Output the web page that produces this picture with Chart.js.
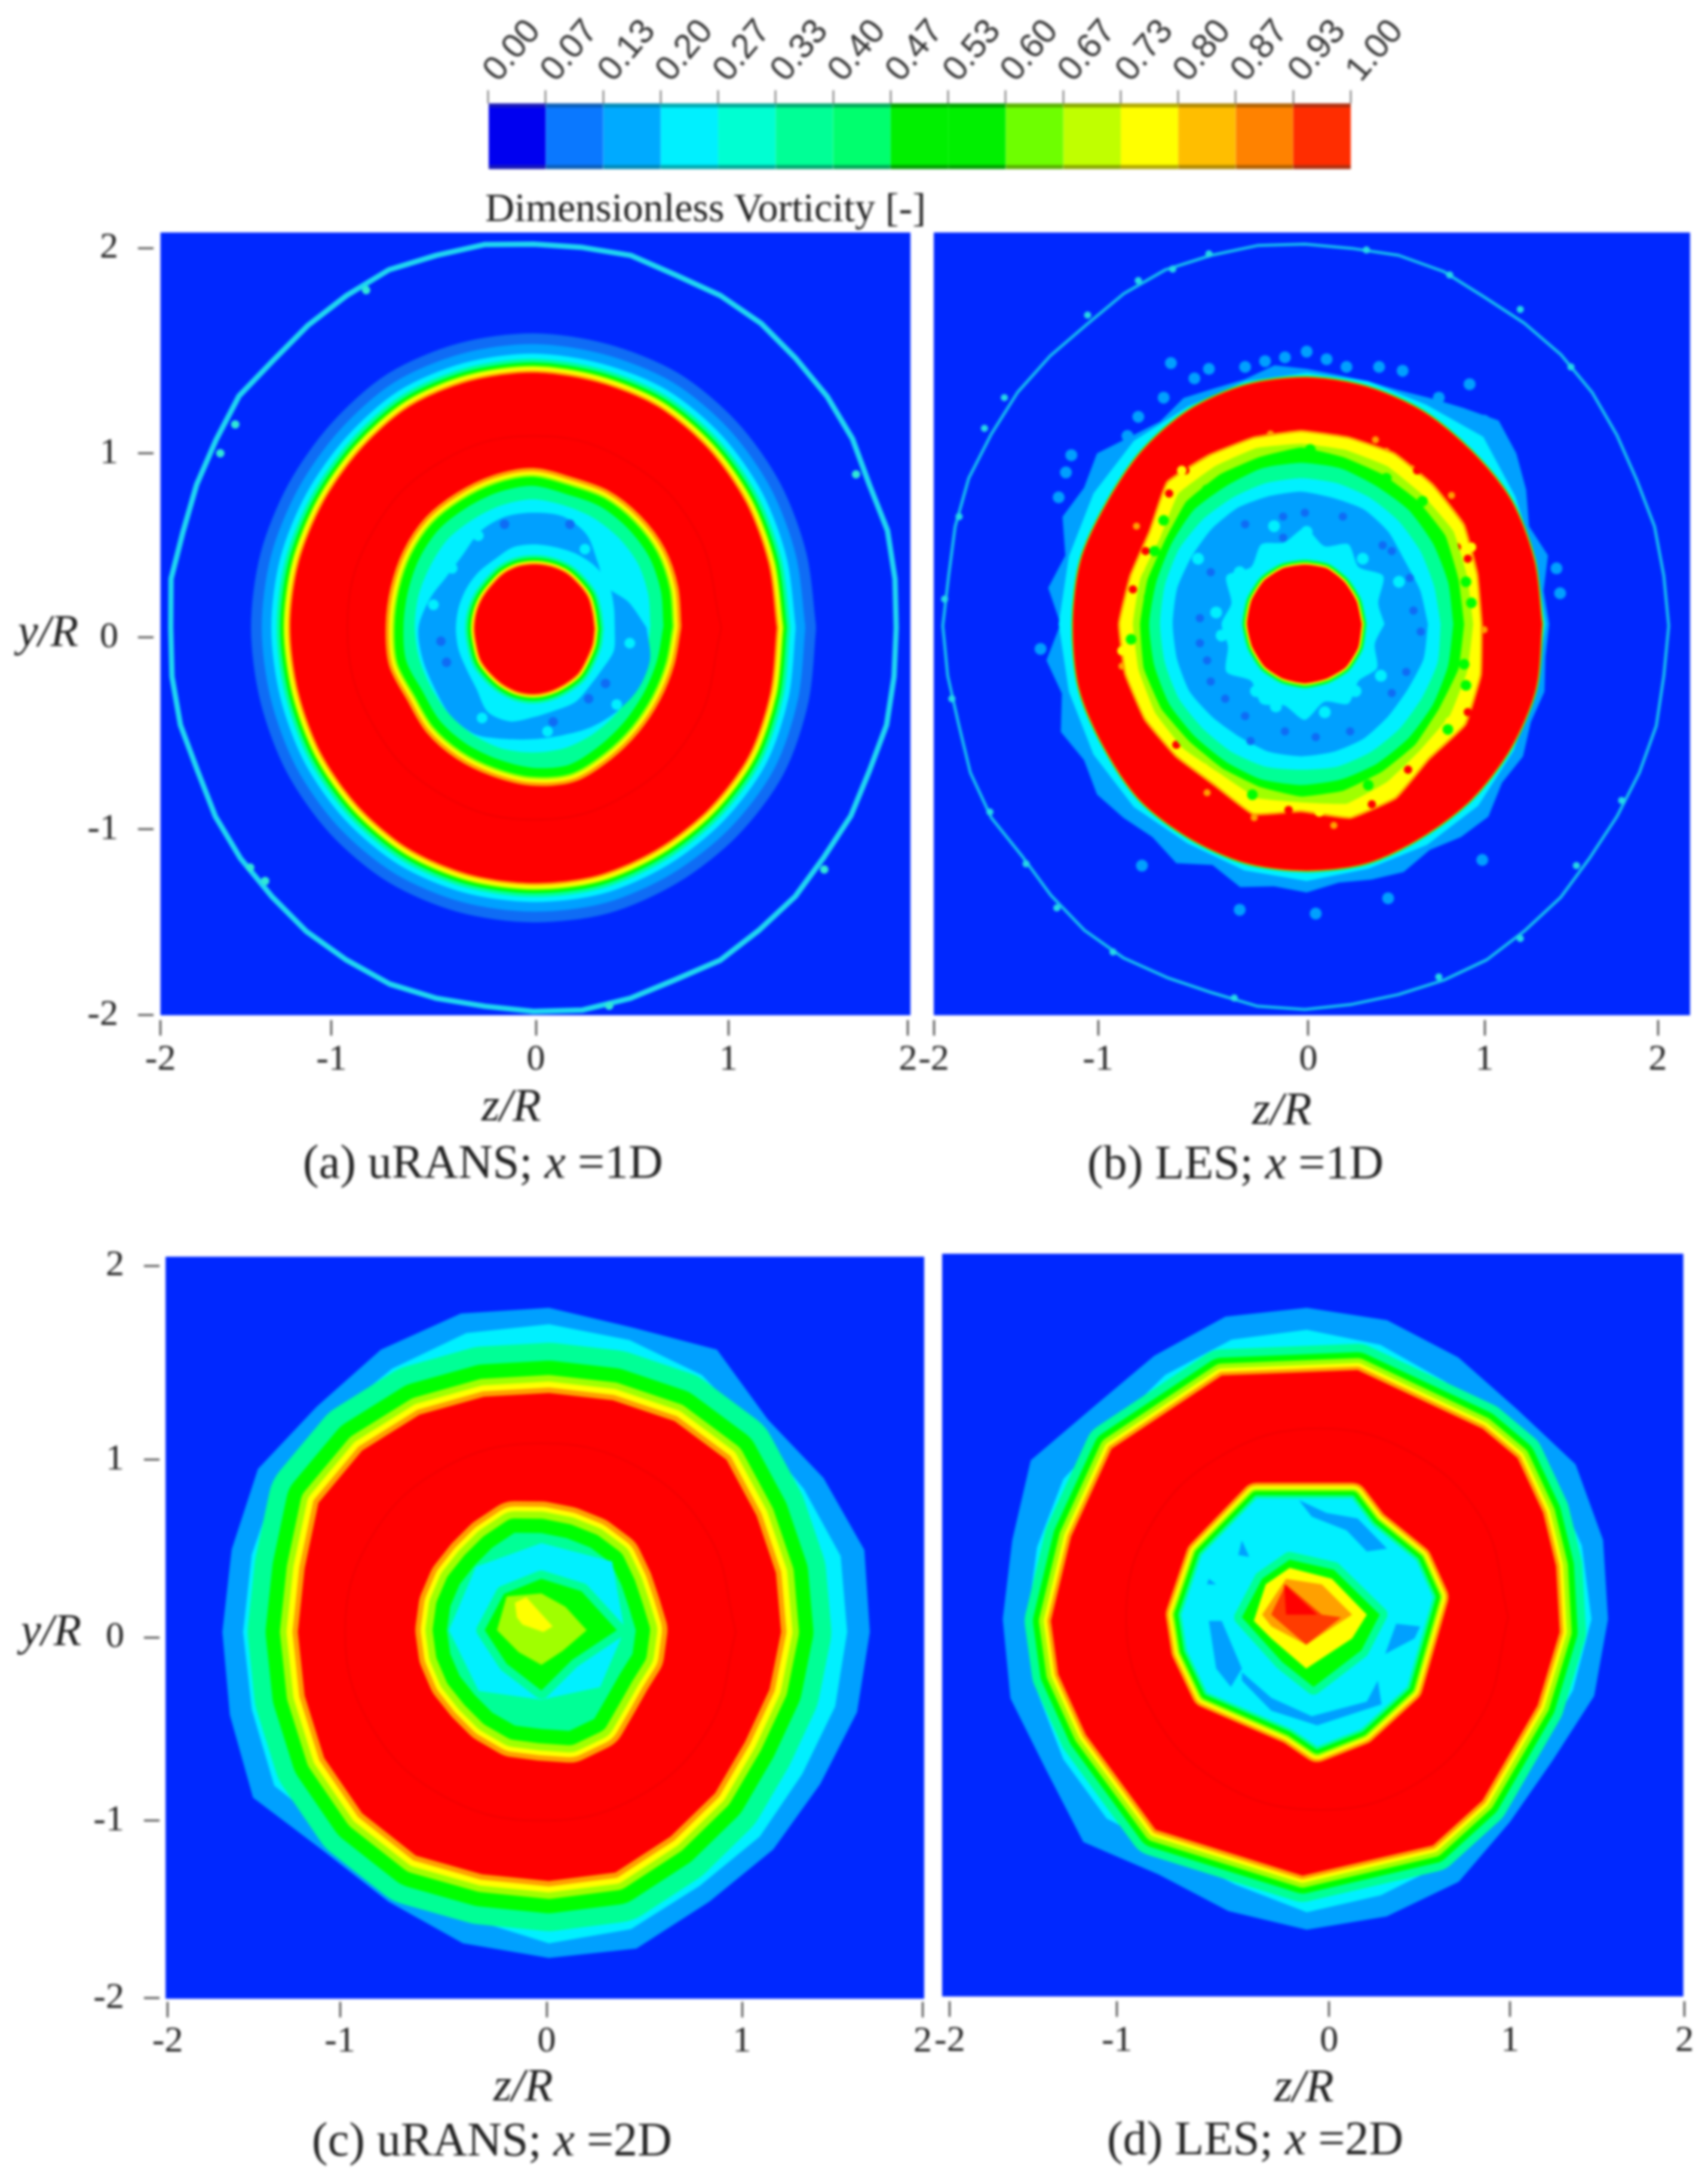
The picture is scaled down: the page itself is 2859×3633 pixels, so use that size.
<!DOCTYPE html>
<html>
<head>
<meta charset="utf-8">
<title>Dimensionless Vorticity</title>
<script src="https://cdn.jsdelivr.net/npm/chart.js@4/dist/chart.umd.min.js"></script>
<style>
  html, body { margin: 0; background: #fff; }
  #page { position: relative; width: 2859px; height: 3633px; overflow: hidden; filter: blur(2px); }
  canvas { position: absolute; }
  .txt { position: absolute; white-space: nowrap; transform: translateY(-50%); font-family: "Liberation Serif", serif; color: #222; }
  .txt i { font-style: italic; }
</style>
</head>
<body>
<div id="page"></div>
<script>
// colour bar
const cbLabels = ["0.00","0.07","0.13","0.20","0.27","0.33","0.40","0.47","0.53","0.60","0.67","0.73","0.80","0.87","0.93","1.00"];
const cbColors = ["#0000f0","#0a78ff","#00aaff","#00f0ff","#00ffd2","#00ff96","#00ff6e","#00f000","#00f000","#6eff00","#c0ff00","#ffff00","#ffbe00","#ff8200","#ff2d00"];
const cbEdges = ["#1a1ab8","#0a5fb8","#008ab8","#00a8b0","#00a896","#00a870","#00a858","#00a000","#00a000","#58b000","#88a800","#b0a800","#b08800","#b06000","#b03010"];

const BG = "#0028ff", BLUE = "#0f6cf5", SKY = "#00a0ff", CYAN = "#00f0ff", TEAL = "#00ff96",
  GREEN = "#00ff00", LIME = "#a0ff00", YELLOW = "#ffff00", ORANGE = "#ffa000", RED = "#ff0000", DEEP = "#ff3c00";

const axisLabels = ["-2", "-1", "0", "1", "2"];

// tick positions as they sit in each panel
const xTicksA = [-2, -1.085, 0.008, 1.037, 1.998];
const xTicksB = [-2, -1.092, 0.069, 1.043, 2.0];
const xTicksC = [-2, -1.087, 0.008, 1.043, 2.0];
const xTicksD = [-2, -1.09, 0.065, 1.05, 2.0];
const yTicksA = [-2, -1.03, -0.03, 0.93, 2];
const yTicksC = [-2, -1.03, -0.03, 0.94, 2];

// contour radii, evenly spaced counter clockwise from +z
// (a) uRANS x=1D
const aThin = [1.94,1.95,1.96,1.945,1.97,1.98,1.985,2.0,2.0,1.99,2.01,2.0,2.0,2.015,2.01,2.02,2.0,1.985,1.97,1.985,1.96,1.95,1.94,1.955,1.94,1.95,1.955,1.945,1.965,1.975,1.98,1.995,2.0,2.01,2.0,1.99,2.0,2.01,2.0,1.985,2.0,1.985,1.98,1.96,1.96,1.945,1.955,1.945];
const aRed = [1.30,1.30,1.31,1.32,1.33,1.325,1.33,1.33,1.33,1.31,1.30,1.30,1.30,1.30,1.31,1.32,1.33,1.33,1.33,1.335,1.33,1.33,1.33,1.31];
const aHole = [0.70,0.71,0.72,0.72,0.72,0.71,0.73,0.72,0.71,0.71,0.70,0.69,0.69,0.70,0.68,0.70,0.71,0.72,0.74,0.75,0.72,0.70,0.69,0.69];
const aCyan = [0.63,0.64,0.65,0.65,0.65,0.65,0.66,0.65,0.64,0.64,0.63,0.63,0.63,0.63,0.63,0.64,0.65,0.66,0.66,0.66,0.65,0.64,0.63,0.63];
const aSky = [0.60,0.52,0.44,0.48,0.56,0.60,0.60,0.60,0.58,0.54,0.54,0.58,0.62,0.62,0.62,0.64,0.64,0.60,0.58,0.58,0.60,0.62,0.64,0.64];
const aHalo = [0.43,0.44,0.46,0.46,0.45,0.44,0.44,0.44,0.42,0.42,0.42,0.42,0.42,0.42,0.42,0.44,0.50,0.50,0.46,0.44,0.44,0.42,0.42,0.44];
const aCore = [0.32,0.32,0.33,0.33,0.335,0.335,0.335,0.335,0.33,0.32,0.32,0.32,0.32,0.32,0.33,0.33,0.335,0.34,0.34,0.335,0.33,0.33,0.32,0.32];
const aFaint = [1.0,1.0,1.0,1.0,1.0,1.0,1.0,1.0,1.0,1.0,1.0,1.0];
const aDark = [[-0.47,-0.16],[0.29,-0.35],[0.38,-0.27],[-0.16,0.56],[0.19,0.56],[-0.50,-0.05],[0.10,-0.47]];
const aCyanSpots = [[-0.54,0.14],[-0.44,0.33],[0.27,0.43],[-0.28,-0.45],[0.07,-0.52],[0.51,-0.06],[-0.30,0.50],[0.44,-0.38]];
const aThinSpots = [[-1.52,-1.23],[-1.44,-1.30],[-1.68,0.93],[-1.60,1.08],[1.55,-1.24],[1.72,0.82],[-0.90,1.78],[0.40,-1.95]];

// (b) LES x=1D
const bThin = [2.01,2.0,2.0,1.985,1.99,2.0,2.0,1.99,1.98,2.0,2.0,1.985,1.99,2.0,2.0,2.01,2.0,1.98,1.99,2.0,2.0,2.01,2.0,1.985,2.0,1.99,1.98,2.0,2.0,1.97,1.985,2.0,2.0,1.985,1.98,2.0,2.0,1.99,1.99,2.0,2.01,2.0,2.0,1.985,1.99,2.0,2.01,2.0];
const bRed = [1.30,1.30,1.30,1.28,1.28,1.28,1.285,1.29,1.29,1.28,1.27,1.29,1.29,1.30,1.29,1.30,1.29,1.29,1.285,1.29,1.28,1.29,1.30,1.31];
const bBand = [1.34,1.32,1.38,1.33,1.40,1.46,1.50,1.42,1.36,1.32,1.31,1.31,1.33,1.36,1.32,1.33,1.36,1.33,1.38,1.46,1.42,1.46,1.38,1.44,1.36,1.45,1.40,1.47,1.42,1.46,1.43,1.40,1.44,1.36,1.42,1.38,1.40,1.36,1.38,1.40,1.36,1.40,1.42,1.36,1.38,1.34,1.36,1.33];
const bBandCyan = [1.32,1.31,1.33,1.38,1.32,1.31,1.31,1.31,1.31,1.35,1.36,1.36,1.37,1.36,1.36,1.35,1.32,1.33,1.34,1.32,1.33,1.34,1.32,1.31];
const bHole = [0.99,1.0,1.03,1.02,1.02,1.0,1.0,1.0,1.01,1.04,0.96,0.97,1.0,1.0,0.99,0.97,0.96,1.02,0.97,1.04,1.04,0.99,1.04,1.02];
const bLime = [0.95,0.95,0.97,0.95,0.95,0.94,0.94,0.95,0.95,0.96,0.90,0.92,0.93,0.93,0.93,0.92,0.90,0.94,0.93,0.97,0.95,0.93,0.95,0.95];
const bGreen = [0.90,0.90,0.92,0.91,0.90,0.90,0.92,0.90,0.90,0.90,0.87,0.88,0.89,0.90,0.89,0.87,0.87,0.88,0.90,0.90,0.89,0.89,0.88,0.90];
const bTeal = [0.84,0.84,0.84,0.84,0.83,0.84,0.84,0.84,0.83,0.84,0.83,0.83,0.84,0.84,0.84,0.83,0.83,0.84,0.84,0.84,0.84,0.84,0.84,0.84];
const bCyan = [0.77,0.76,0.76,0.76,0.76,0.76,0.76,0.76,0.76,0.77,0.78,0.78,0.78,0.78,0.78,0.77,0.77,0.77,0.76,0.77,0.77,0.77,0.77,0.78];
const bSky = [0.70,0.68,0.66,0.68,0.69,0.68,0.69,0.69,0.70,0.70,0.70,0.71,0.71,0.71,0.71,0.69,0.68,0.69,0.69,0.69,0.69,0.68,0.68,0.70];
const bHalo = [0.44,0.42,0.50,0.42,0.48,0.42,0.50,0.44,0.48,0.42,0.50,0.42,0.46,0.44,0.50,0.42,0.48,0.44,0.50,0.42,0.48,0.42,0.46,0.40];
const bCore = [0.315,0.31,0.31,0.315,0.31,0.315,0.32,0.32,0.32,0.315,0.315,0.31,0.31,0.31,0.32,0.32];
const bPatches = [[-0.28,1.38],[-0.17,1.41],[-0.06,1.43],[0.06,1.46],[0.17,1.42],[0.28,1.38],[0.46,1.38],[0.59,1.36],[-0.56,1.32],[-0.48,1.37],[-0.69,1.40],[-0.73,1.22],[-0.87,1.12],[-0.93,1.02],[-1.07,0.86],[-1.24,0.92],[-1.27,0.83],[-1.31,0.70],[-1.41,-0.09],[-0.85,-1.22],[-0.31,-1.45],[0.11,-1.47],[0.51,-1.39],[1.03,-1.19],[1.46,0.20],[1.44,0.33],[0.96,1.29],[1.04,1.10],[0.79,1.22]];
const bDark = [[-0.07,0.60],[0.05,0.62],[0.26,0.60],[-0.28,0.56],[-0.07,0.49],[0.48,0.45],[0.53,0.42],[-0.47,0.31],[0.63,0.28],[-0.53,0.07],[-0.53,-0.06],[-0.49,-0.15],[-0.47,-0.26],[-0.39,-0.35],[-0.28,-0.44],[-0.06,-0.52],[0.11,-0.55],[0.30,-0.52],[0.53,-0.32],[0.61,-0.21],[0.69,0],[0.65,0.11],[-0.25,-0.57]];
const bCyanSpots = [[-0.12,0.55],[0.06,0.52],[0.57,0.26],[-0.54,0.38],[-0.31,0.31],[-0.44,0.10],[-0.41,-0.02],[0.33,-0.31],[-0.11,-0.39],[0.05,-0.37],[0.16,-0.42],[0.47,-0.23],[0.25,0.34],[0.37,0.38],[-0.22,-0.31],[0.16,0.41]];
const bOrangeSpots = [[-0.14,1.03],[-0.88,0.55],[-0.96,-0.18],[0.44,1.0],[0.50,0.94],[0.86,0.71],[0.64,0.85],[-0.49,-0.84],[-0.23,-0.97],[0.21,-1.01],[-0.71,0.71],[1.04,0.01]];
const bRedSpots = [[-0.61,0.84],[-0.70,0.72],[-0.83,0.42],[-0.90,0.22],[0.89,0.44],[0.95,0.38],[0.95,-0.42],[0.62,-0.72],[-0.66,-0.59],[-0.51,-0.71],[0.42,-0.90],[-0.04,-0.93],[0.67,0.84]];
const bYellowSpots = [[-0.96,-0.10],[0.97,0.44],[0.85,-0.47],[0.13,-0.94],[-0.86,0.33],[-0.63,0.84],[0.40,0.93],[0.69,0.76],[-0.51,-0.71],[-0.71,-0.55],[0.30,-0.94]];
const bGreenSpots = [[0.08,0.95],[0.50,0.80],[0.70,0.68],[0.94,0.26],[0.97,0.15],[0.93,-0.17],[0.94,-0.28],[0.84,-0.51],[0.40,-0.80],[-0.24,-0.85],[-0.91,-0.04],[-0.81,0.18],[-0.78,0.42],[-0.73,0.58],[-0.49,0.74]];
const bThinSpots = [[-0.48,1.97],[-0.68,1.89],[-0.87,1.83],[-1.15,1.65],[-1.61,1.22],[-1.72,1.06],[-1.86,0.60],[-1.94,0.17],[-1.90,-0.35],[-1.69,-0.94],[-1.49,-1.21],[-1.32,-1.44],[-1.01,-1.67],[-0.34,-1.91],[0.79,-1.80],[1.24,-1.60],[1.55,-1.22],[1.80,-0.88],[1.24,1.68],[1.52,1.38],[0.85,1.86],[0.39,1.99]];

// (c) uRANS x=2D
const cBlue = [1.70,1.73,1.68,1.64,1.78,1.72,1.77,1.80,1.78,1.74,1.78,1.74,1.73,1.75,1.81,1.69,1.70,1.76,1.78,1.79,1.70,1.68,1.66,1.69];
const cCyan = [1.58,1.60,1.56,1.55,1.62,1.65,1.68,1.69,1.66,1.64,1.66,1.63,1.62,1.63,1.68,1.58,1.58,1.62,1.70,1.68,1.60,1.58,1.55,1.57];
const cRed = [1.23,1.245,1.27,1.33,1.33,1.31,1.305,1.33,1.37,1.40,1.41,1.34,1.33,1.34,1.375,1.40,1.41,1.37,1.36,1.36,1.29,1.245,1.20,1.21];
const cHole = [0.50,0.48,0.49,0.52,0.52,0.52,0.53,0.55,0.52,0.50,0.50,0.50,0.50,0.50,0.50,0.50,0.52,0.54,0.54,0.57,0.56,0.50,0.48,0.50];
const cCyanIn = [0.44,0.53,0.475,0.49,0.49,0.47,0.38,0.44];
const cGreenIn = [0.40,0.30,0.28,0.28,0.30,0.26,0.33,0.23];
const cLimeIn = [0.24,0.18,0.20,0.26,0.235,0.17,0.19,0.16];
const cYellowIn = [[-0.16,0.16],[-0.10,0.19],[0.04,0.03],[-0.01,0],[-0.12,0.04],[-0.15,0.08]];
const cFaint = [1.04,1.04,1.04,1.03,1.03,1.03,1.03,1.03,1.03,1.03,1.04,1.04];

// (d) LES x=2D
const dBlue = [1.64,1.67,1.69,1.62,1.65,1.69,1.70,1.71,1.66,1.64,1.735,1.66,1.655,1.67,1.64,1.72,1.61,1.65,1.695,1.68,1.655,1.565,1.545,1.62];
const dCyan = [1.55,1.55,1.54,1.50,1.50,1.55,1.58,1.58,1.54,1.49,1.53,1.52,1.52,1.52,1.53,1.54,1.47,1.50,1.60,1.56,1.53,1.44,1.45,1.50];
const dRed = [[1.32,0],[1.30,0.36],[1.23,0.65],[1.09,0.95],[0.90,1.11],[0.22,1.43],[-0.52,1.40],[-1.12,1.0],[-1.34,0.52],[-1.45,0.06],[-1.41,-0.23],[-1.26,-0.56],[-0.88,-1.08],[-0.08,-1.33],[0.63,-1.165],[0.90,-0.92],[1.20,-0.40]];
const dHole = [[-0.74,0.095],[-0.63,0.42],[-0.33,0.73],[0.19,0.73],[0.30,0.585],[0.54,0.39],[0.63,0.19],[0.49,-0.30],[0.24,-0.53],[0,-0.625],[-0.14,-0.53],[-0.60,-0.33],[-0.71,-0.10]];
const dSky1 = [[-0.10,0.72],[0.05,0.65],[0.22,0.62],[0.38,0.455],[0.27,0.44],[0.16,0.555],[-0.03,0.63]];
const dSky2 = [[-0.59,0.06],[-0.52,0.06],[-0.41,-0.20],[-0.47,-0.30],[-0.55,-0.20]];
const dSky3 = [[-0.41,-0.22],[-0.25,-0.36],[-0.03,-0.46],[0.27,-0.38],[0.33,-0.265],[0.35,-0.395],[0,-0.51],[-0.25,-0.43],[-0.41,-0.265]];
const dSky4 = [[0.43,0.045],[0.56,0.03],[0.53,-0.035],[0.37,-0.12]];
const dSky5 = [[-0.41,0.50],[-0.37,0.41],[-0.43,0.42]];
const dSky6 = [[-0.59,0.29],[-0.55,0.26],[-0.60,0.26]];
const dGreenIn = [[-0.41,0.08],[-0.30,0.29],[-0.15,0.395],[0.09,0.34],[0.34,0.095],[0.24,-0.10],[-0.02,-0.30],[-0.19,-0.165]];
const dYellowIn = [[-0.345,0.06],[-0.28,0.26],[-0.15,0.35],[0.08,0.29],[0.27,0.095],[0.19,-0.035],[-0.06,-0.20],[-0.25,-0.035]];
const dOrangeIn = [[-0.30,0.095],[-0.17,0.29],[0.025,0.26],[0.19,0.095],[-0.06,-0.07],[-0.25,0.03]];
const dDeepIn = [[-0.235,0.13],[-0.17,0.26],[0.025,0.095],[0.13,0.08],[-0.06,-0.07],[-0.25,0.095]];
const dRedIn = [[-0.18,0.26],[0,0.095],[-0.17,0.095]];
const dFaint = [1.07,1.07,1.05,1.03,1.01,1.01,1.01,1.01,1.03,1.05,1.07,1.07];

// helpers
function polar(cx, cy, radii) {
  const pts = radii.map((r, i) => {
    const a = (i * 2 * Math.PI) / radii.length;
    return { x: cx + r * Math.cos(a), y: cy + r * Math.sin(a) };
  });
  pts.push(pts[0]);
  return pts;
}
function closed(list) {
  const pts = list.map((p) => ({ x: p[0], y: p[1] }));
  pts.push(pts[0]);
  return pts;
}
function free(list) {
  return list.map((p) => ({ x: p[0], y: p[1] }));
}
function shape(pts, color, tension = 0) {
  return { data: pts, showLine: true, fill: "shape", backgroundColor: color, borderWidth: 0, pointRadius: 0, tension };
}
function edge(pts, color, width, tension = 0) {
  return { data: pts, showLine: true, fill: false, borderColor: color, borderWidth: width, borderJoinStyle: "round", borderCapStyle: "round", pointRadius: 0, tension };
}
function spots(list, color, r) {
  return { data: free(list), showLine: false, pointRadius: r, pointBackgroundColor: color, pointBorderWidth: 0 };
}
// stack of bands hugging a contour, widest first
function bands(pts, stack, tension = 0) {
  return stack.map((b) => edge(pts, b[0], b[1] * 2, tension));
}
function rect(x0, x1, y0, y1) {
  return shape(closed([[x0, y0], [x1, y0], [x1, y1], [x0, y1]]), BG);
}

const page = document.getElementById("page");

function panel(cfg) {
  const yWidth = cfg.yTicks ? cfg.left : 0;
  const padLeft = cfg.yTicks ? 0 : 70;
  const padTop = 50;
  const leftEdge = cfg.left - yWidth - padLeft;
  const cv = document.createElement("canvas");
  cv.width = cfg.right - leftEdge + 50;
  cv.height = cfg.bottom - cfg.top + 110 + padTop;
  cv.style.left = leftEdge + "px";
  cv.style.top = cfg.top - padTop + "px";
  page.appendChild(cv);

  const tickStyle = { display: true, drawOnChartArea: false, drawTicks: true, tickLength: 26, color: "#444", lineWidth: 3 };
  const tickFont = { family: "Liberation Serif", size: 62 };

  new Chart(cv, {
    type: "scatter",
    // first dataset paints on top, so the layers are flipped
    data: { datasets: cfg.layers.slice().reverse() },
    options: {
      responsive: false,
      animation: false,
      layout: { padding: { left: padLeft, right: 50, top: padTop, bottom: 0 } },
      plugins: { legend: { display: false }, tooltip: { enabled: false } },
      scales: {
        x: {
          type: "linear", min: cfg.xMin, max: cfg.xMax,
          grid: tickStyle, border: { display: false },
          afterBuildTicks: (s) => { s.ticks = cfg.xTicks.map((v) => ({ value: v })); },
          afterFit: (s) => { s.height = 110; s.paddingLeft = 0; s.paddingRight = 0; },
          ticks: { autoSkip: false, maxRotation: 0, padding: 4, color: "#222", font: tickFont, callback: (v, i) => axisLabels[i] },
        },
        y: {
          type: "linear", min: cfg.yMin, max: cfg.yMax, display: !!cfg.yTicks,
          grid: tickStyle, border: { display: false },
          afterBuildTicks: (s) => { s.ticks = (cfg.yTicks || []).map((v) => ({ value: v })); },
          afterFit: (s) => { s.width = yWidth; s.paddingTop = 0; s.paddingBottom = 0; },
          ticks: { autoSkip: false, padding: 33, color: "#222", font: tickFont, callback: (v, i) => axisLabels[i] },
        },
      },
    },
  });
}

// colour bar
function colorBar() {
  const cv = document.createElement("canvas");
  const left = 737, right = 2261, barTop = 173, barBottom = 283;
  cv.width = right - left + 170;
  cv.height = barBottom;
  cv.style.left = left + "px";
  cv.style.top = "0px";
  page.appendChild(cv);
  new Chart(cv, {
    type: "bar",
    data: {
      labels: [""],
      datasets: cbColors.map((c, i) => ({
        data: [1], backgroundColor: c, categoryPercentage: 1, barPercentage: 1,
        borderColor: cbEdges[i], borderWidth: { top: 7, bottom: 7, left: 0, right: 0 }, borderSkipped: false,
      })),
    },
    options: {
      indexAxis: "y", responsive: false, animation: false,
      layout: { padding: { left: 80, right: 170, top: 0, bottom: 0 } },
      plugins: { legend: { display: false }, tooltip: { enabled: false } },
      scales: {
        x: {
          position: "top", stacked: true, min: 0, max: 15,
          grid: { display: true, drawOnChartArea: false, tickLength: 22, color: "#555", lineWidth: 2 }, border: { display: false },
          afterFit: (s) => { s.height = barTop; s.paddingLeft = 0; s.paddingRight = 0; },
          ticks: { stepSize: 1, autoSkip: false, minRotation: 50, maxRotation: 50, padding: 0, labelOffset: 58, color: "#333", font: { family: "Liberation Sans", size: 58 }, callback: (v) => cbLabels[v] },
        },
        y: { stacked: true, display: false },
      },
    },
  });
}

// panels
const cA = [-0.005, 0.02], cB = [0.05, 0.03], cC = [0.02, 0], cD = [-0.057, 0.07];

panel({
  left: 257, right: 1524, top: 389, bottom: 1707,
  xMin: -2.037, xMax: 2.011, yMin: -2.025, yMax: 2.081, xTicks: xTicksA, yTicks: yTicksA,
  layers: [
    rect(-2, 2.011, -2, 2.081),
    edge(polar(cA[0], cA[1], aThin), "#1fd6f2", 9),
    spots(aThinSpots, "#30e8d8", 7),
    ...bands(polar(cA[0], cA[1], aRed), [[BLUE, 66], [SKY, 48], [CYAN, 32], [TEAL, 23], [GREEN, 17], [LIME, 12], [YELLOW, 9], [ORANGE, 4]], 0.3),
    shape(polar(cA[0], cA[1], aRed), RED, 0.3),
    edge(polar(0, 0.02, aFaint), "rgba(170,0,0,0.3)", 1.5, 0.4),
    ...bands(polar(-0.01, 0.03, aHole), [[ORANGE, 30], [YELLOW, 24], [LIME, 19], [GREEN, 15]], 0.3),
    shape(polar(-0.01, 0.03, aHole), TEAL, 0.3),
    shape(polar(-0.01, 0.03, aCyan), CYAN, 0.3),
    shape(polar(0, 0.02, aSky), SKY, 0.3),
    spots(aCyanSpots, CYAN, 9),
    spots(aDark, BLUE, 8),
    shape(polar(0, 0.015, aHalo), CYAN, 0.3),
    ...bands(polar(0, 0.015, aCore), [[TEAL, 16], [GREEN, 11], [YELLOW, 6], [ORANGE, 3]], 0.3),
    shape(polar(0, 0.015, aCore), RED, 0.3),
  ],
});

panel({
  left: 1563, right: 2829, top: 389, bottom: 1707,
  xMin: -2.0, xMax: 2.178, yMin: -2.025, yMax: 2.081, xTicks: xTicksB,
  layers: [
    rect(-2, 2.178, -2, 2.081),
    edge(polar(cB[0], cB[1], bThin), "#16bff0", 5),
    spots(bThinSpots, "#25d8e8", 6),
    spots(bPatches, SKY, 10),
    shape(polar(0.06, 0.04, bBand), SKY),
    shape(polar(0.06, 0.04, bBandCyan), CYAN),
    ...bands(polar(0.06, 0.04, bRed), [[GREEN, 3], [ORANGE, 1.5]], 0.3),
    shape(polar(0.06, 0.04, bRed), RED, 0.3),
    spots(bOrangeSpots, ORANGE, 6),
    edge(polar(0.03, 0.04, bHole), ORANGE, 8, 0.1),
    shape(polar(0.03, 0.04, bHole), YELLOW, 0.1),
    spots(bRedSpots, RED, 7),
    shape(polar(0.03, 0.04, bLime), LIME, 0.1),
    spots(bYellowSpots, YELLOW, 8),
    spots(bGreenSpots, GREEN, 9),
    shape(polar(0.03, 0.04, bGreen), GREEN, 0.1),
    shape(polar(0.03, 0.04, bTeal), TEAL, 0.2),
    shape(polar(0.03, 0.04, bCyan), CYAN, 0.2),
    shape(polar(0.03, 0.04, bSky), SKY, 0.2),
    spots(bCyanSpots, CYAN, 10),
    spots(bDark, BLUE, 7),
    shape(polar(0.05, 0.04, bHalo), CYAN, 0.25),
    ...bands(polar(0.05, 0.04, bCore), [[TEAL, 9], [GREEN, 6], [YELLOW, 3]], 0.2),
    shape(polar(0.05, 0.04, bCore), RED, 0.2),
  ],
});

panel({
  left: 267, right: 1547, top: 2103, bottom: 3350,
  xMin: -2.043, xMax: 2.008, yMin: -2.02, yMax: 2.049, xTicks: xTicksC, yTicks: yTicksC,
  layers: [
    rect(-2.011, 2.008, -2.003, 2.049),
    shape(polar(cC[0], cC[1], cBlue), SKY),
    shape(polar(cC[0], cC[1], cCyan), CYAN),
    ...bands(polar(cC[0], cC[1], cRed), [[TEAL, 84], [GREEN, 54], [LIME, 30], [YELLOW, 19], [ORANGE, 9]]),
    shape(polar(cC[0], cC[1], cRed), RED),
    edge(polar(-0.03, 0.0, cFaint), "rgba(170,0,0,0.3)", 1.5, 0.4),
    ...bands(polar(-0.02, 0.01, cHole), [[ORANGE, 53], [YELLOW, 44], [LIME, 36], [GREEN, 24]]),
    shape(polar(-0.02, 0.01, cHole), TEAL),
    shape(polar(-0.02, 0.01, cCyanIn), CYAN),
    edge(polar(-0.02, 0.01, cGreenIn), TEAL, 28),
    shape(polar(-0.02, 0.01, cGreenIn), GREEN),
    shape(polar(-0.02, 0.01, cLimeIn), LIME),
    shape(closed(cYellowIn), YELLOW),
  ],
});

panel({
  left: 1577, right: 2822, top: 2098, bottom: 3349,
  xMin: -2.042, xMax: 2.007, yMin: -2.016, yMax: 2.065, xTicks: xTicksD,
  layers: [
    rect(-2.042, 1.993, -1.99, 2.065),
    shape(polar(cD[0], cD[1], dBlue), SKY),
    shape(polar(cD[0], cD[1], dCyan), CYAN),
    ...bands(closed(dRed), [[TEAL, 44], [GREEN, 30], [LIME, 20], [YELLOW, 12], [ORANGE, 6]]),
    shape(closed(dRed), RED),
    edge(polar(-0.03, 0.08, dFaint), "rgba(170,0,0,0.3)", 1.5, 0.4),
    ...bands(closed(dHole), [[ORANGE, 26], [YELLOW, 21], [LIME, 16], [GREEN, 12], [TEAL, 5]]),
    shape(closed(dHole), CYAN),
    shape(closed(dSky1), SKY), shape(closed(dSky2), SKY), shape(closed(dSky3), SKY),
    shape(closed(dSky4), SKY), shape(closed(dSky5), SKY), shape(closed(dSky6), SKY),
    edge(closed(dGreenIn), TEAL, 26),
    shape(closed(dGreenIn), GREEN),
    shape(closed(dYellowIn), YELLOW),
    shape(closed(dOrangeIn), ORANGE),
    shape(closed(dDeepIn), DEEP),
    shape(closed(dRedIn), RED),
  ],
});

colorBar();

// titles and captions
const captions = [
  ["Dimensionless Vorticity [-]", 812, 347, 68],
  ["<i>y/R</i>", 30, 1055, 76],
  ["<i>y/R</i>", 35, 2727, 76],
  ["<i>z/R</i>", 806, 1849, 78],
  ["<i>z/R</i>", 2096, 1855, 78],
  ["<i>z/R</i>", 826, 3489, 78],
  ["<i>z/R</i>", 2133, 3490, 78],
  ["(a) uRANS; <i>x</i> =1D", 507, 1944, 80],
  ["(b) LES; <i>x</i> =1D", 1820, 1945, 80],
  ["(c) uRANS; <i>x</i> =2D", 522, 3580, 80],
  ["(d) LES; <i>x</i> =2D", 1853, 3578, 80],
];
captions.forEach((c) => {
  const el = document.createElement("div");
  el.className = "txt";
  el.innerHTML = c[0];
  el.style.left = c[1] + "px";
  el.style.top = c[2] + "px";
  el.style.fontSize = c[3] + "px";
  page.appendChild(el);
});
</script>
</body>
</html>
